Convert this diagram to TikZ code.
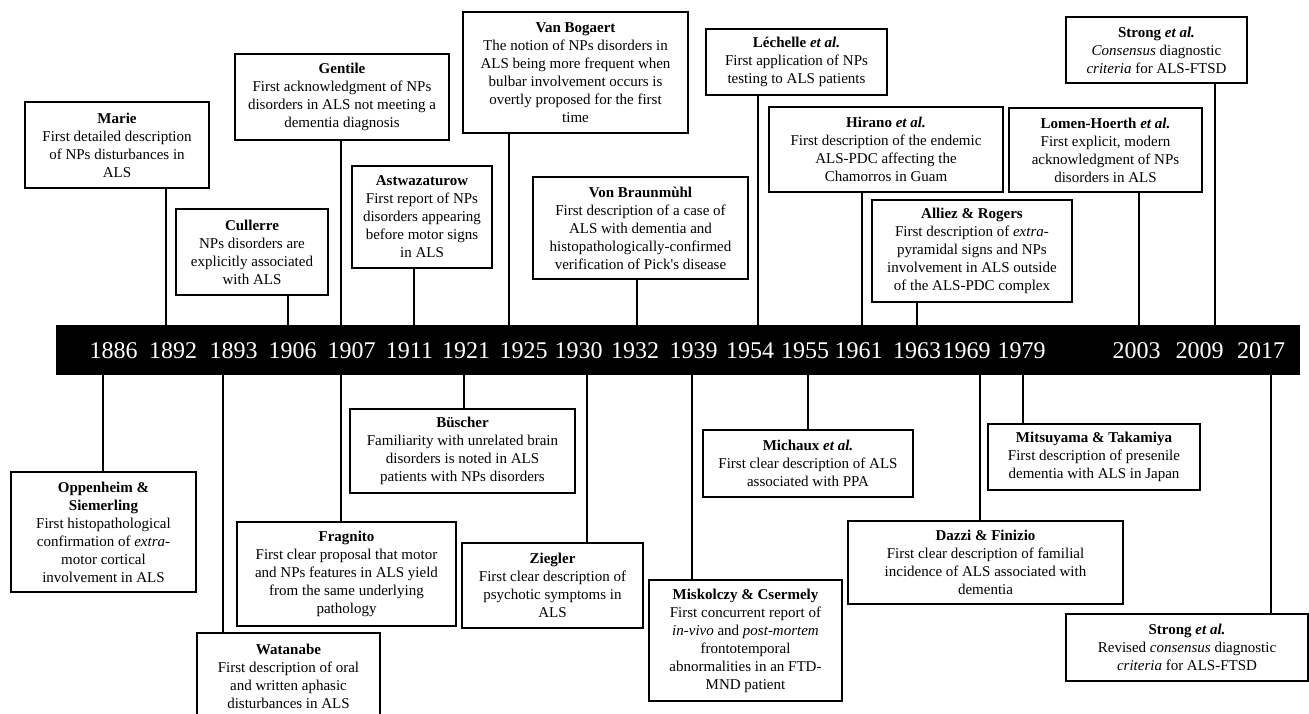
\documentclass[tikz,border=0pt]{standalone}
\usepackage{fontspec}
\setmainfont{Liberation Serif}
\begin{document}
\begin{tikzpicture}[x=1pt,y=-1pt,
  evbox/.style={draw, line width=1.8pt, align=center, inner sep=0pt, fill=white,
    font=\fontsize{15}{18}\selectfont},
  conn/.style={line width=2pt},
  yr/.style={text=white, anchor=base, inner sep=0pt, font=\fontsize{24}{28}\selectfont}]
\useasboundingbox (0,0) rectangle (1309,714);

% timeline bar
\node[fill=black, minimum width=1244pt, minimum height=50pt, inner sep=0pt] (bar) at (678,350) {};

% years
\node[yr] (y1886) at (113.5,358) {1886};
\node[yr] (y1892) at (173,358) {1892};
\node[yr] (y1893) at (233.5,358) {1893};
\node[yr] (y1906) at (292.5,358) {1906};
\node[yr] (y1907) at (351.5,358) {1907};
\node[yr] (y1911) at (409.5,358) {1911};
\node[yr] (y1921) at (466,358) {1921};
\node[yr] (y1925) at (523.5,358) {1925};
\node[yr] (y1930) at (578.5,358) {1930};
\node[yr] (y1932) at (635,358) {1932};
\node[yr] (y1939) at (693.5,358) {1939};
\node[yr] (y1954) at (750,358) {1954};
\node[yr] (y1955) at (805,358) {1955};
\node[yr] (y1961) at (858.5,358) {1961};
\node[yr] (y1963) at (917,358) {1963};
\node[yr] (y1969) at (966.5,358) {1969};
\node[yr] (y1979) at (1021.5,358) {1979};
\node[yr] (y2003) at (1136.5,358) {2003};
\node[yr] (y2009) at (1199.5,358) {2009};
\node[yr] (y2017) at (1261,358) {2017};

% ---------- top boxes ----------
\node[evbox, minimum width=184pt, minimum height=86pt] (marie) at (117,145)
  {\textbf{Marie}\\First detailed description\\of NPs disturbances in\\ALS};
\node[evbox, minimum width=152pt, minimum height=86pt] (cullerre) at (252,252)
  {\textbf{Cullerre}\\NPs disorders are\\explicitly associated\\with ALS};
\node[evbox, minimum width=214pt, minimum height=86pt] (gentile) at (342,97)
  {\textbf{Gentile}\\First acknowledgment of NPs\\disorders in ALS not meeting a\\dementia diagnosis};
\node[evbox, minimum width=140pt, minimum height=102pt] (astwa) at (422,217)
  {\textbf{Astwazaturow}\\First report of NPs\\disorders appearing\\before motor signs\\in ALS};
\node[evbox, minimum width=225pt, minimum height=121pt] (vanbog) at (575.5,72.5)
  {\textbf{Van Bogaert}\\The notion of NPs disorders in\\ALS being more frequent when\\bulbar involvement occurs is\\overtly proposed for the first\\time};
\node[evbox, minimum width=215pt, minimum height=102pt] (vonbr) at (640.5,228)
  {\textbf{Von Braunmùhl}\\First description of a case of\\ALS with dementia and\\histopathologically-confirmed\\verification of Pick\textquotesingle s disease};
\node[evbox, minimum width=181pt, minimum height=66pt] (lechelle) at (796.5,62)
  {\textbf{Léchelle \textit{et al.}}\\First application of NPs\\testing to ALS patients};
\node[evbox, minimum width=234pt, minimum height=85pt] (hirano) at (886,149.5)
  {\textbf{Hirano \textit{et al.}}\\First description of the endemic\\ALS-PDC affecting the\\Chamorros in Guam};
\node[evbox, minimum width=200pt, minimum height=102pt] (alliez) at (972,251)
  {\textbf{Alliez \& Rogers}\\First description of \textit{extra}-\\pyramidal signs and NPs\\involvement in ALS outside\\of the ALS-PDC complex};
\node[evbox, minimum width=193pt, minimum height=84pt] (lomen) at (1105.5,150)
  {\textbf{Lomen-Hoerth \textit{et al.}}\\First explicit, modern\\acknowledgment of NPs\\disorders in ALS};
\node[evbox, minimum width=181pt, minimum height=66pt] (strongA) at (1156.5,50)
  {\textbf{Strong \textit{et al.}}\\\textit{Consensus} diagnostic\\\textit{criteria} for ALS-FTSD};

% ---------- bottom boxes ----------
\node[evbox, minimum width=185pt, minimum height=120pt] (oppen) at (103.5,532)
  {\textbf{Oppenheim \&}\\\textbf{Siemerling}\\First histopathological\\confirmation of \textit{extra}-\\motor cortical\\involvement in ALS};
\node[evbox, minimum width=183pt, minimum height=86pt] (watanabe) at (288.5,676)
  {\textbf{Watanabe}\\First description of oral\\and written aphasic\\disturbances in ALS};
\node[evbox, minimum width=219pt, minimum height=104pt] (fragnito) at (346.5,574)
  {\textbf{Fragnito}\\First clear proposal that motor\\and NPs features in ALS yield\\from the same underlying\\pathology};
\node[evbox, minimum width=225pt, minimum height=84pt] (buscher) at (462.5,451)
  {\textbf{Büscher}\\Familiarity with unrelated brain\\disorders is noted in ALS\\patients with NPs disorders};
\node[evbox, minimum width=181pt, minimum height=85pt] (ziegler) at (552.5,585.5)
  {\textbf{Ziegler}\\First clear description of\\psychotic symptoms in\\ALS};
\node[evbox, minimum width=193pt, minimum height=121pt] (misk) at (745.5,640.5)
  {\textbf{Miskolczy \& Csermely}\\First concurrent report of\\\textit{in-vivo} and \textit{post-mortem}\\frontotemporal\\abnormalities in an FTD-\\MND patient};
\node[evbox, minimum width=210pt, minimum height=67pt] (michaux) at (808,463.5)
  {\textbf{Michaux \textit{et al.}}\\First clear description of ALS\\associated with PPA};
\node[evbox, minimum width=212pt, minimum height=66pt] (mitsu) at (1094,457)
  {\textbf{Mitsuyama \& Takamiya}\\First description of presenile\\dementia with ALS in Japan};
\node[evbox, minimum width=275pt, minimum height=83pt] (dazzi) at (985.5,562.5)
  {\textbf{Dazzi \& Finizio}\\First clear description of familial\\incidence of ALS associated with\\dementia};
\node[evbox, minimum width=242pt, minimum height=67pt] (strongB) at (1187,647.5)
  {\textbf{Strong \textit{et al.}}\\Revised \textit{consensus} diagnostic\\\textit{criteria} for ALS-FTSD};

% ---------- connector x positions ----------
\coordinate (xMarie) at (166,0);
\coordinate (xCullerre) at (288,0);
\coordinate (xGentile) at (341,0);
\coordinate (xAstwa) at (414,0);
\coordinate (xVanbog) at (509,0);
\coordinate (xVonbr) at (637,0);
\coordinate (xLechelle) at (758,0);
\coordinate (xHirano) at (862,0);
\coordinate (xAlliez) at (917,0);
\coordinate (xLomen) at (1139,0);
\coordinate (xStrongA) at (1215,0);
\coordinate (xOppen) at (103,0);
\coordinate (xWatanabe) at (223,0);
\coordinate (xFragnito) at (341,0);
\coordinate (xBuscher) at (464,0);
\coordinate (xZiegler) at (587,0);
\coordinate (xMisk) at (692,0);
\coordinate (xMichaux) at (808,0);
\coordinate (xMitsu) at (1023,0);
\coordinate (xDazzi) at (980,0);
\coordinate (xStrongB) at (1271,0);

% ---------- connectors ----------
\foreach \c/\b in {xMarie/marie, xCullerre/cullerre, xGentile/gentile, xAstwa/astwa,
  xVanbog/vanbog, xVonbr/vonbr, xLechelle/lechelle, xHirano/hirano, xAlliez/alliez,
  xLomen/lomen, xStrongA/strongA}
  \draw[conn] (\c |- \b.south) -- (\c |- bar.north);
\foreach \c/\b in {xOppen/oppen, xWatanabe/watanabe, xFragnito/fragnito, xBuscher/buscher,
  xZiegler/ziegler, xMisk/misk, xMichaux/michaux, xMitsu/mitsu, xDazzi/dazzi,
  xStrongB/strongB}
  \draw[conn] (\c |- bar.south) -- (\c |- \b.north);
\end{tikzpicture}
\end{document}
